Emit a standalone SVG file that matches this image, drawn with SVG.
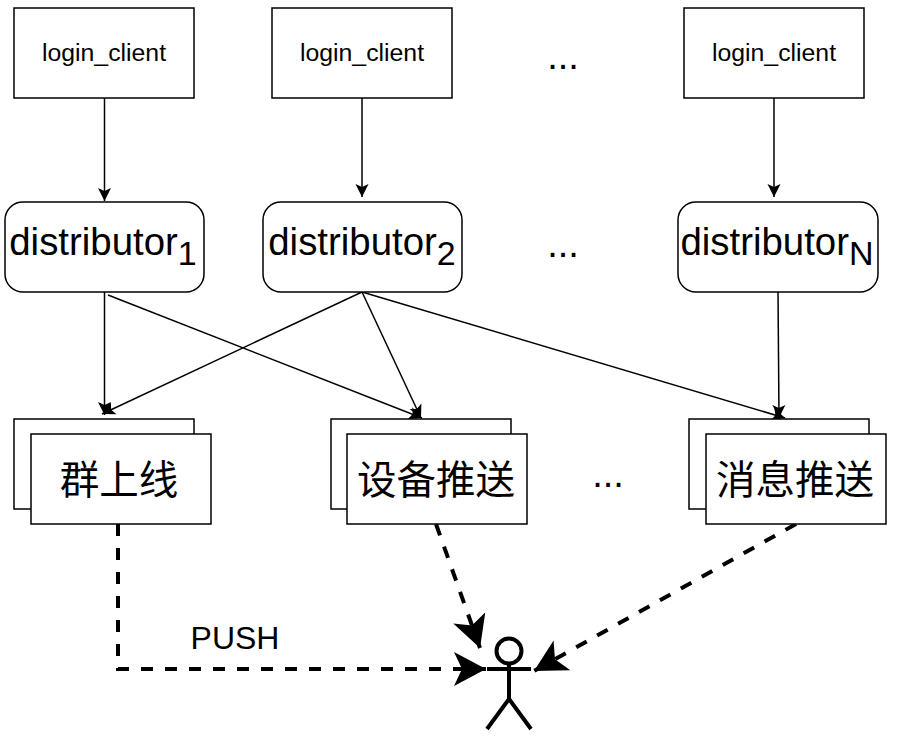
<svg xmlns="http://www.w3.org/2000/svg" width="898" height="736" viewBox="0 0 898 736">
<style>
text{font-family:"Liberation Sans","Noto Sans CJK SC",sans-serif;fill:#000;text-anchor:middle}
.b{fill:#fff;stroke:#000;stroke-width:1.5}
.c{fill:none;stroke:#000;stroke-width:1.5;marker-end:url(#a)}
.d{fill:none;stroke:#000;stroke-width:4;stroke-dasharray:12 12;marker-end:url(#A)}
.s{font-size:24.8px}.m{font-size:38.4px}.l{font-size:39.5px}.u{font-size:34px}
</style>
<defs>
<marker id="a" markerUnits="userSpaceOnUse" markerWidth="16" markerHeight="16" refX="13" refY="7" orient="auto"><path d="M0 0.500L13 7L0 13.500L3 7Z" fill="#000"/></marker>
<marker id="A" markerUnits="userSpaceOnUse" markerWidth="36" markerHeight="36" refX="32" refY="17" orient="auto"><path d="M0 0L32 17L0 34L8 17Z" fill="#000"/></marker>
</defs>
<rect width="898" height="736" fill="#fff"/>
<g id="connectors">
<path class="c" d="M104.500 98V201"/>
<path class="c" d="M362 98V197"/>
<path class="c" d="M774 98V197"/>
<path class="c" d="M104.500 292V415"/>
<path class="c" d="M108 295L422 418"/>
<path class="c" d="M362 292L102 414"/>
<path class="c" d="M362 292L421 418"/>
<path class="c" d="M362 292L785 418"/>
<path class="c" d="M778 292L779 418"/>
<path class="d" d="M118 524V669H486"/>
<path class="d" d="M436 524L480 648"/>
<path class="d" d="M796 524L534 671"/>
</g>
<g id="login1"><rect class="b" x="14" y="8" width="180" height="90"/><text class="s" x="104" y="61">login_client</text></g>
<g id="login2"><rect class="b" x="272" y="8" width="180" height="90"/><text class="s" x="362" y="61">login_client</text></g>
<g id="login3"><rect class="b" x="684" y="8" width="180" height="90"/><text class="s" x="774" y="61">login_client</text></g>
<text x="563" y="69" style="font-size:38px">...</text>
<g id="dist1"><rect class="b" x="5" y="202" width="199" height="90" rx="18"/><text class="m" x="103" y="255">distributor<tspan class="u" dy="10">1</tspan></text></g>
<g id="dist2"><rect class="b" x="263" y="202" width="199" height="90" rx="18"/><text class="m" x="362" y="255">distributor<tspan class="u" dy="10">2</tspan></text></g>
<g id="distN"><rect class="b" x="678" y="202" width="200" height="90" rx="18"/><text class="m" x="777" y="255">distributor<tspan class="u" dy="10">N</tspan></text></g>
<text x="563" y="257" style="font-size:38px">...</text>
<g id="group"><rect class="b" x="14" y="419" width="180" height="90"/><rect class="b" x="31" y="434" width="180" height="90"/><text class="l" x="119" y="494">群上线</text></g>
<g id="device"><rect class="b" x="331" y="419" width="180" height="90"/><rect class="b" x="347" y="434" width="180" height="90"/><text class="l" x="436" y="494">设备推送</text></g>
<g id="message"><rect class="b" x="689" y="419" width="180" height="90"/><rect class="b" x="706" y="434" width="180" height="90"/><text class="l" x="795" y="494">消息推送</text></g>
<text x="608" y="487" style="font-size:38px">...</text>
<text x="235" y="649" style="font-size:32px">PUSH</text>
<g id="actor" fill="none" stroke="#000" stroke-width="4"><circle cx="509" cy="651" r="12.500" fill="#fff"/><path d="M509 664V699M487 669H531M509 699L487 729M509 699L531 729"/></g>
</svg>
